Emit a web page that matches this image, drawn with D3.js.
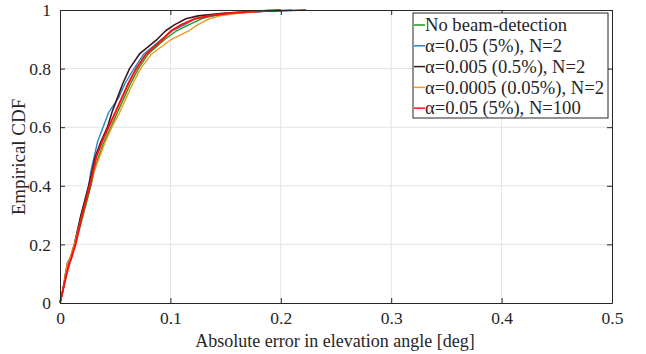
<!DOCTYPE html>
<html>
<head>
<meta charset="utf-8">
<script src="https://cdn.jsdelivr.net/npm/d3@7"></script>
<style>
  body { margin: 0; background: #fff; }
</style>
</head>
<body>
<div id="root"></div>
<script>
// CDF levels shared by every series, x values
const cdfLevels = [0, 0.05, 0.1, 0.14, 0.15, 0.2, 0.3, 0.4, 0.45, 0.5, 0.55, 0.6, 0.65, 0.7, 0.75, 0.8, 0.85, 0.9, 0.93, 0.95, 0.97, 0.98, 0.99, 0.995, 1];

const noBeamDetection = [0, 0.003, 0.006, 0.008, 0.010, 0.014, 0.021, 0.028, 0.031, 0.035, 0.040, 0.046, 0.052, 0.058, 0.064, 0.071, 0.080, 0.095, 0.106, 0.117, 0.128, 0.138, 0.160, 0.180, 0.200];
const alpha005N2 = [0, 0.003, 0.006, 0.008, 0.010, 0.013, 0.019, 0.026, 0.028, 0.031, 0.034, 0.039, 0.044, 0.053, 0.059, 0.067, 0.076, 0.092, 0.102, 0.113, 0.122, 0.138, 0.160, 0.180, 0.210];
const alpha0005N2 = [0, 0.003, 0.005, 0.007, 0.009, 0.013, 0.019, 0.026, 0.029, 0.032, 0.037, 0.043, 0.047, 0.052, 0.057, 0.063, 0.072, 0.088, 0.096, 0.104, 0.114, 0.125, 0.150, 0.180, 0.223];
const alpha00005N2 = [0, 0.003, 0.005, 0.007, 0.009, 0.013, 0.020, 0.027, 0.031, 0.036, 0.041, 0.047, 0.054, 0.060, 0.066, 0.073, 0.083, 0.101, 0.117, 0.125, 0.135, 0.145, 0.165, 0.180, 0.190];
const alpha005N100 = [0, 0.003, 0.006, 0.009, 0.010, 0.014, 0.020, 0.027, 0.030, 0.033, 0.038, 0.044, 0.050, 0.056, 0.062, 0.069, 0.078, 0.093, 0.101, 0.110, 0.122, 0.135, 0.155, 0.175, 0.200];

const seriesNames = [
  'No beam-detection',
  'α=0.05 (5%), N=2',
  'α=0.005 (0.5%), N=2',
  'α=0.0005 (0.05%), N=2',
  'α=0.05 (5%), N=100',
];
const seriesValues = [noBeamDetection, alpha005N2, alpha0005N2, alpha00005N2, alpha005N100];
const seriesColors = ['#1e961e', '#2a84c6', '#3a1a1e', '#ee9a22', '#ff1010'];
const seriesWidths = [1.4, 1.4, 1.6, 1.4, 2];

const xTicks = [0, 0.1, 0.2, 0.3, 0.4, 0.5];
const yTicks = [0, 0.2, 0.4, 0.6, 0.8, 1];

const fontFamily = "'Liberation Serif', 'Times New Roman', serif";

const dimensions = {
  width: 646,
  height: 354,
  margin: { top: 10, right: 34, bottom: 51, left: 60 },
};
dimensions.boundedWidth = dimensions.width - dimensions.margin.left - dimensions.margin.right;
dimensions.boundedHeight = dimensions.height - dimensions.margin.top - dimensions.margin.bottom;

const xScale = d3.scaleLinear().domain([0, 0.5]).range([0, dimensions.boundedWidth]);
const yScale = d3.scaleLinear().domain([0, 1]).range([dimensions.boundedHeight, 0]);

const svg = d3.select('#root')
  .append('svg')
  .attr('width', dimensions.width)
  .attr('height', dimensions.height)
  .attr('font-family', fontFamily);

const bounds = svg.append('g')
  .attr('transform', `translate(${dimensions.margin.left},${dimensions.margin.top})`);

// grid
bounds.append('g')
  .selectAll('line')
  .data(xTicks.slice(1, -1))
  .join('line')
  .attr('x1', d => xScale(d)).attr('x2', d => xScale(d))
  .attr('y1', 0).attr('y2', dimensions.boundedHeight)
  .attr('stroke', '#e3e3e3');
bounds.append('g')
  .selectAll('line')
  .data(yTicks.slice(1, -1))
  .join('line')
  .attr('y1', d => yScale(d)).attr('y2', d => yScale(d))
  .attr('x1', 0).attr('x2', dimensions.boundedWidth)
  .attr('stroke', '#e3e3e3');

// curves
const lineGenerator = d3.line()
  .x(d => xScale(d[0]))
  .y(d => yScale(d[1]));

seriesValues.forEach((values, i) => {
  bounds.append('path')
    .attr('fill', 'none')
    .attr('stroke', seriesColors[i])
    .attr('stroke-width', seriesWidths[i])
    .attr('stroke-linejoin', 'round')
    .attr('d', lineGenerator(values.map((v, j) => [v, cdfLevels[j]])));
});

// axes
const xAxis = bounds.append('g')
  .attr('transform', `translate(0,${dimensions.boundedHeight})`)
  .call(d3.axisBottom(xScale).tickValues(xTicks).tickFormat(d3.format('')).tickSizeInner(-5).tickSizeOuter(0).tickPadding(9));
const xAxisTop = bounds.append('g')
  .call(d3.axisTop(xScale).tickValues(xTicks).tickFormat('').tickSizeInner(-5).tickSizeOuter(0));
const yAxis = bounds.append('g')
  .call(d3.axisLeft(yScale).tickValues(yTicks).tickFormat(d3.format('')).tickSizeInner(-5).tickSizeOuter(0).tickPadding(9));
const yAxisRight = bounds.append('g')
  .attr('transform', `translate(${dimensions.boundedWidth},0)`)
  .call(d3.axisRight(yScale).tickValues(yTicks).tickFormat('').tickSizeInner(-5).tickSizeOuter(0));

[xAxis, xAxisTop, yAxis, yAxisRight].forEach(g => {
  g.attr('font-family', fontFamily).attr('font-size', 17.5);
  g.select('.domain').attr('stroke', '#262626').attr('stroke-width', 1);
  g.selectAll('.tick line').attr('stroke', '#262626');
  g.selectAll('.tick text').attr('fill', '#262626');
});

// labels
svg.append('text')
  .attr('x', 335)
  .attr('y', 347)
  .attr('text-anchor', 'middle')
  .attr('font-size', 18)
  .attr('fill', '#262626')
  .text('Absolute error in elevation angle [deg]');

svg.append('text')
  .attr('transform', 'translate(25,157) rotate(-90)')
  .attr('text-anchor', 'middle')
  .attr('font-size', 19)
  .attr('fill', '#262626')
  .text('Empirical CDF');

// legend
const legend = svg.append('g').attr('transform', 'translate(413,13)');
legend.append('rect')
  .attr('width', 195).attr('height', 105)
  .attr('fill', '#fff').attr('stroke', '#262626').attr('stroke-width', 1);

const legendItems = legend.selectAll('g.item')
  .data(seriesNames)
  .join('g')
  .attr('class', 'item')
  .attr('transform', (d, i) => `translate(0,${12 + i * 20.8})`);

legendItems.append('line')
  .attr('x1', 1).attr('x2', 12)
  .attr('stroke', (d, i) => seriesColors[i])
  .attr('stroke-width', 1.5);

legendItems.append('text')
  .attr('x', 12)
  .attr('dy', '0.33em')
  .attr('font-size', 18.6)
  .attr('fill', '#262626')
  .text(d => d);
</script>
</body>
</html>
